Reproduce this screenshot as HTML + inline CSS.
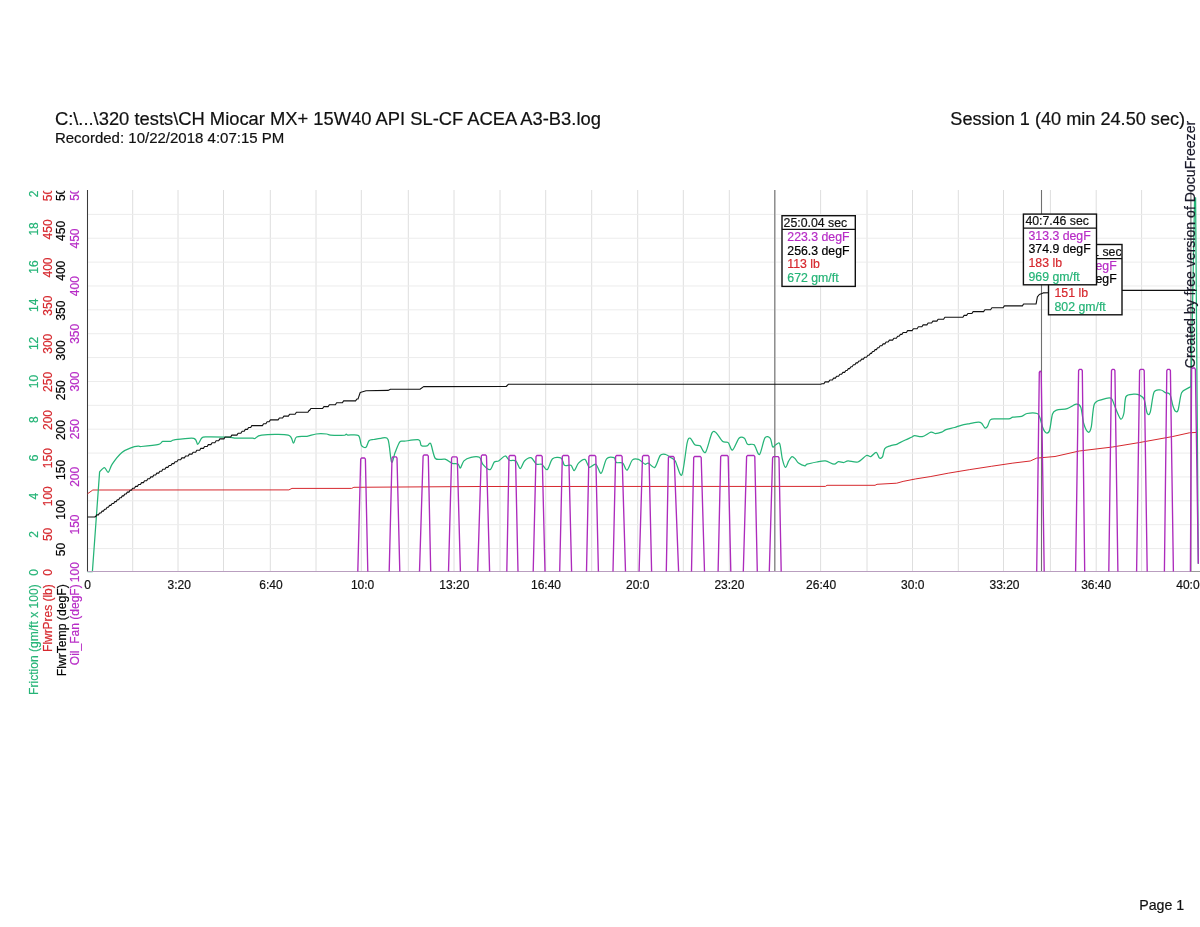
<!DOCTYPE html>
<html><head><meta charset="utf-8"><title>Chart</title>
<style>
html,body{margin:0;padding:0;background:#fff;width:1200px;height:927px;overflow:hidden;}
svg{display:block;will-change:transform;}
text{font-family:"Liberation Sans",Arial,Helvetica,sans-serif;stroke-width:0.2px;}
</style></head><body>
<svg width="1200" height="927" viewBox="0 0 1200 927">
<defs><clipPath id="clipTop"><rect x="0" y="190.75" width="90" height="500"/></clipPath><clipPath id="clipBox2"><rect x="1048.5" y="244.7" width="73" height="71"/></clipPath></defs>
<rect width="1200" height="927" fill="#fff"/>
<text x="54.9" y="125.2" font-size="18" textLength="546" lengthAdjust="spacingAndGlyphs" fill="#111" stroke="#111">C:\...\320 tests\CH Miocar MX+ 15W40 API SL-CF ACEA A3-B3.log</text>
<text x="54.9" y="142.6" font-size="15" textLength="229.4" lengthAdjust="spacingAndGlyphs" fill="#111" stroke="#111">Recorded: 10/22/2018 4:07:15 PM</text>
<text x="950.3" y="125.2" font-size="18" textLength="234.8" lengthAdjust="spacingAndGlyphs" fill="#111" stroke="#111">Session 1 (40 min 24.50 sec)</text>
<text x="1139.2" y="910" font-size="15" textLength="45" lengthAdjust="spacingAndGlyphs" fill="#111" stroke="#111">Page 1</text>
<path d="M132.70 190.0V571.5M178.00 190.0V571.5M223.50 190.0V571.5M270.30 190.0V571.5M316.00 190.0V571.5M361.30 190.0V571.5M408.30 190.0V571.5M454.00 190.0V571.5M500.00 190.0V571.5M545.70 190.0V571.5M591.70 190.0V571.5M637.70 190.0V571.5M683.30 190.0V571.5M729.30 190.0V571.5M775.00 190.0V571.5M820.60 190.0V571.5M867.00 190.0V571.5M912.50 190.0V571.5M958.30 190.0V571.5M1003.50 190.0V571.5M1050.40 190.0V571.5M1096.20 190.0V571.5M1141.60 190.0V571.5" stroke="#dedede" stroke-width="1" fill="none"/>
<path d="M88 214.37H1200M88 238.24H1200M88 262.11H1200M88 285.98H1200M88 309.85H1200M88 333.72H1200M88 357.59H1200M88 381.46H1200M88 405.33H1200M88 429.20H1200M88 453.07H1200M88 476.94H1200M88 500.81H1200M88 524.68H1200M88 548.55H1200" stroke="#ececec" stroke-width="1" fill="none"/>
<g clip-path="url(#clipTop)" font-size="12" text-anchor="middle">
<text transform="translate(38.1,572.50) rotate(-90)" fill="#25b477" stroke="#25b477">0</text><text transform="translate(38.1,534.32) rotate(-90)" fill="#25b477" stroke="#25b477">2</text><text transform="translate(38.1,496.14) rotate(-90)" fill="#25b477" stroke="#25b477">4</text><text transform="translate(38.1,457.96) rotate(-90)" fill="#25b477" stroke="#25b477">6</text><text transform="translate(38.1,419.78) rotate(-90)" fill="#25b477" stroke="#25b477">8</text><text transform="translate(38.1,381.60) rotate(-90)" fill="#25b477" stroke="#25b477">10</text><text transform="translate(38.1,343.42) rotate(-90)" fill="#25b477" stroke="#25b477">12</text><text transform="translate(38.1,305.24) rotate(-90)" fill="#25b477" stroke="#25b477">14</text><text transform="translate(38.1,267.06) rotate(-90)" fill="#25b477" stroke="#25b477">16</text><text transform="translate(38.1,228.88) rotate(-90)" fill="#25b477" stroke="#25b477">18</text><text transform="translate(38.1,190.70) rotate(-90)" fill="#25b477" stroke="#25b477">20</text>
<text transform="translate(51.7,572.50) rotate(-90)" fill="#d6282e" stroke="#d6282e">0</text><text transform="translate(51.7,534.38) rotate(-90)" fill="#d6282e" stroke="#d6282e">50</text><text transform="translate(51.7,496.25) rotate(-90)" fill="#d6282e" stroke="#d6282e">100</text><text transform="translate(51.7,458.12) rotate(-90)" fill="#d6282e" stroke="#d6282e">150</text><text transform="translate(51.7,420.00) rotate(-90)" fill="#d6282e" stroke="#d6282e">200</text><text transform="translate(51.7,381.88) rotate(-90)" fill="#d6282e" stroke="#d6282e">250</text><text transform="translate(51.7,343.75) rotate(-90)" fill="#d6282e" stroke="#d6282e">300</text><text transform="translate(51.7,305.62) rotate(-90)" fill="#d6282e" stroke="#d6282e">350</text><text transform="translate(51.7,267.50) rotate(-90)" fill="#d6282e" stroke="#d6282e">400</text><text transform="translate(51.7,229.38) rotate(-90)" fill="#d6282e" stroke="#d6282e">450</text><text transform="translate(51.7,191.25) rotate(-90)" fill="#d6282e" stroke="#d6282e">500</text>
<text transform="translate(65.3,549.60) rotate(-90)" fill="#000" stroke="#000">50</text><text transform="translate(65.3,509.76) rotate(-90)" fill="#000" stroke="#000">100</text><text transform="translate(65.3,469.92) rotate(-90)" fill="#000" stroke="#000">150</text><text transform="translate(65.3,430.08) rotate(-90)" fill="#000" stroke="#000">200</text><text transform="translate(65.3,390.24) rotate(-90)" fill="#000" stroke="#000">250</text><text transform="translate(65.3,350.40) rotate(-90)" fill="#000" stroke="#000">300</text><text transform="translate(65.3,310.56) rotate(-90)" fill="#000" stroke="#000">350</text><text transform="translate(65.3,270.72) rotate(-90)" fill="#000" stroke="#000">400</text><text transform="translate(65.3,230.88) rotate(-90)" fill="#000" stroke="#000">450</text><text transform="translate(65.3,191.04) rotate(-90)" fill="#000" stroke="#000">500</text>
<text transform="translate(78.9,572.20) rotate(-90)" fill="#b72cc6" stroke="#b72cc6">100</text><text transform="translate(78.9,524.53) rotate(-90)" fill="#b72cc6" stroke="#b72cc6">150</text><text transform="translate(78.9,476.85) rotate(-90)" fill="#b72cc6" stroke="#b72cc6">200</text><text transform="translate(78.9,429.18) rotate(-90)" fill="#b72cc6" stroke="#b72cc6">250</text><text transform="translate(78.9,381.50) rotate(-90)" fill="#b72cc6" stroke="#b72cc6">300</text><text transform="translate(78.9,333.83) rotate(-90)" fill="#b72cc6" stroke="#b72cc6">350</text><text transform="translate(78.9,286.15) rotate(-90)" fill="#b72cc6" stroke="#b72cc6">400</text><text transform="translate(78.9,238.48) rotate(-90)" fill="#b72cc6" stroke="#b72cc6">450</text><text transform="translate(78.9,190.80) rotate(-90)" fill="#b72cc6" stroke="#b72cc6">500</text>
</g>
<g font-size="12.3">
<text transform="translate(38.4,694.9) rotate(-90)" textLength="110.6" lengthAdjust="spacingAndGlyphs" fill="#25b477" stroke="#25b477">Friction (gm/ft x 100)</text>
<text transform="translate(51.9,651.9) rotate(-90)" textLength="67.6" lengthAdjust="spacingAndGlyphs" fill="#d6282e" stroke="#d6282e">FlwrPres (lb)</text>
<text transform="translate(65.6,676.2) rotate(-90)" textLength="91.9" lengthAdjust="spacingAndGlyphs" fill="#000" stroke="#000">FlwrTemp (degF)</text>
<text transform="translate(79.3,665.2) rotate(-90)" textLength="80.9" lengthAdjust="spacingAndGlyphs" fill="#b72cc6" stroke="#b72cc6">Oil_Fan (degF)</text>
</g>
<g font-size="12" text-anchor="middle" fill="#111" stroke="#111">
<text x="87.5" y="589">0</text><text x="179.2" y="589">3:20</text><text x="270.9" y="589">6:40</text><text x="362.6" y="589">10:0</text><text x="454.3" y="589">13:20</text><text x="546.0" y="589">16:40</text><text x="637.7" y="589">20:0</text><text x="729.4" y="589">23:20</text><text x="821.1" y="589">26:40</text><text x="912.8" y="589">30:0</text><text x="1004.5" y="589">33:20</text><text x="1096.2" y="589">36:40</text><text x="1187.9" y="589">40:0</text>
</g>
<path d="M87.5 190.0V572.0" stroke="#3a3a3a" stroke-width="1.05" fill="none"/>
<path d="M774.8 190.0V571.5M1041.5 190.0V571.5M1190.9 190.0V571.5" stroke="#707070" stroke-width="1.1" fill="none"/>
<polyline points="87.5,493.8 92.8,490.0 288.9,489.9 292.0,488.4 351.6,488.4 353.9,487.3 480.0,486.5 825.4,486.4 827.0,485.3 875.0,485.3 877.0,484.3 896.7,483.2 903.1,481.4 915.8,478.9 930.9,476.5 948.2,473.2 969.8,469.6 991.3,466.3 1012.9,463.1 1030.2,461.0 1036.7,458.1 1055.0,456.5 1079.2,451.0 1112.5,447.0 1139.6,442.5 1172.8,436.5 1189.4,432.8 1197.0,432.4" fill="none" stroke="#d6282e" stroke-width="1.0" stroke-linejoin="round"/>
<path d="M87.5 571.5L92.4 571.5L99.60 471.90C100.32 471.25 103.09 467.54 104.40 467.60C105.71 467.66 107.13 472.82 108.30 472.30C109.47 471.78 110.16 467.07 112.20 464.10C114.24 461.13 118.99 454.98 121.90 452.50C124.81 450.02 129.12 448.55 131.60 447.60C134.07 446.66 136.94 446.37 138.40 446.20C139.86 446.03 138.40 446.78 141.30 446.50C144.36 446.22 155.59 445.06 158.80 444.30C162.01 443.54 160.94 441.83 162.70 441.40C164.45 440.96 168.75 441.64 170.50 441.40C172.25 441.16 170.91 440.26 174.40 439.80C177.90 439.34 190.31 437.62 193.80 438.30C197.30 438.98 196.53 444.30 197.70 444.30C198.87 444.30 200.43 439.41 201.60 438.30C202.77 437.19 201.60 437.05 205.50 436.90C209.76 436.75 225.43 437.11 230.00 437.30C234.57 437.50 232.59 438.06 236.00 438.20C239.41 438.33 249.86 438.15 252.70 438.20C254.90 438.25 253.55 438.96 254.90 438.50C256.25 438.04 256.70 435.61 261.70 435.10C266.69 434.59 283.44 433.90 288.20 435.10C292.95 436.30 292.15 442.82 293.40 443.10C294.64 443.38 294.46 438.02 296.50 437.00C298.54 435.98 304.06 436.75 307.00 436.30C309.94 435.85 313.15 434.35 316.10 434.00C319.06 433.65 324.54 433.83 326.70 434.00C328.86 434.17 327.78 434.94 330.50 435.10C333.22 435.27 342.43 435.27 344.80 435.10C346.30 434.94 345.85 434.00 346.30 434.00C346.75 434.00 346.30 434.88 347.80 435.10C349.62 435.33 356.36 433.97 358.40 435.50C360.44 437.03 360.26 443.53 361.40 445.30C362.54 447.07 364.86 447.98 366.00 447.30C367.14 446.62 367.85 441.97 369.00 440.80C370.15 439.63 371.91 439.88 373.70 439.50C375.49 439.12 378.75 438.30 380.90 438.30C383.04 438.30 386.41 435.94 388.00 439.50C389.59 443.06 390.44 460.03 391.50 462.00C392.56 463.97 393.86 455.62 395.10 452.60C396.35 449.59 398.38 443.61 399.80 441.90C401.23 440.19 401.75 441.51 404.60 441.20C407.45 440.88 416.31 439.17 418.80 439.80C421.20 440.43 419.95 444.48 421.20 445.40C422.44 446.31 425.68 446.17 427.10 445.90C428.53 445.63 429.45 441.71 430.70 443.60C431.94 445.49 433.25 456.16 435.40 458.50C437.54 460.84 442.50 458.48 445.00 459.20C447.50 459.92 450.15 462.58 452.10 463.30C454.05 464.02 456.75 463.30 458.00 464.00C459.25 464.70 459.51 468.47 460.40 468.00C461.28 467.53 462.31 462.50 463.90 460.90C465.49 459.29 468.68 457.84 471.00 457.30C473.32 456.76 477.62 456.24 479.40 457.30C481.18 458.37 481.31 462.54 482.90 464.40C484.49 466.26 488.29 470.06 490.00 469.70C491.71 469.34 493.01 463.31 494.30 462.00C495.59 460.69 496.98 461.90 498.60 461.00C500.22 460.10 503.48 456.11 505.10 456.00C506.72 455.89 507.78 459.55 509.40 460.30C511.02 461.05 514.28 459.77 515.90 461.00C517.52 462.23 518.91 468.50 520.20 468.50C521.49 468.50 522.88 462.62 524.50 461.00C526.12 459.38 529.22 457.22 531.00 457.70C532.78 458.18 534.78 463.22 536.40 464.20C538.02 465.18 540.18 463.39 541.80 464.20C543.42 465.01 545.58 470.41 547.20 469.60C548.82 468.79 550.50 460.53 552.60 458.80C554.70 457.07 559.42 457.12 561.20 458.10C562.99 459.08 563.04 464.22 564.50 465.30C565.96 466.38 569.44 464.49 570.90 465.30C572.36 466.11 573.06 471.03 574.20 470.70C575.34 470.37 576.88 464.80 578.50 463.10C580.12 461.41 583.38 458.75 585.00 459.40C586.62 460.04 587.68 466.68 589.30 467.40C590.92 468.12 594.01 463.33 595.80 464.20C597.58 465.07 599.58 474.01 601.20 473.20C602.82 472.39 604.67 461.12 606.60 458.80C608.53 456.48 612.64 457.14 614.10 457.70C615.56 458.25 615.01 461.69 616.30 462.50C617.59 463.31 621.10 461.95 622.70 463.10C624.31 464.25 625.53 470.68 627.00 470.20C628.47 469.72 630.76 461.52 632.50 459.90C634.24 458.28 636.71 458.75 638.60 459.40C640.49 460.04 643.64 463.64 645.10 464.20C646.56 464.75 646.84 462.62 648.30 463.10C649.75 463.58 653.01 468.54 654.80 467.40C656.58 466.26 658.58 457.44 660.20 455.50C661.82 453.56 663.98 454.17 665.60 454.50C667.22 454.83 669.54 456.72 671.00 457.70C672.46 458.68 673.68 458.40 675.30 461.00C676.92 463.60 680.01 477.76 681.80 475.00C683.58 472.24 685.91 448.11 687.20 442.60C688.49 437.10 689.26 437.97 690.40 438.30C691.54 438.63 693.34 443.68 694.80 444.80C696.25 445.93 698.50 444.68 700.10 445.80C701.71 446.93 703.72 454.24 705.50 452.30C707.28 450.37 710.38 435.81 712.00 432.90C713.62 429.99 714.68 431.61 716.30 432.90C717.92 434.19 721.01 440.05 722.80 441.50C724.58 442.95 726.75 441.31 728.20 442.60C729.66 443.89 730.88 450.75 732.50 450.10C734.12 449.46 737.22 440.07 739.00 438.30C740.78 436.53 743.11 437.40 744.40 438.30C745.69 439.20 746.14 443.32 747.60 444.30C749.06 445.28 752.32 443.27 754.10 444.80C755.88 446.33 757.88 455.55 759.50 454.50C761.12 453.45 763.28 440.23 764.90 437.80C766.52 435.37 769.14 436.94 770.30 438.30C771.45 439.67 771.77 445.92 772.60 446.90C773.43 447.88 774.73 445.28 775.80 444.80C776.87 444.32 778.73 441.60 779.70 443.70C780.68 445.80 781.43 455.25 782.30 458.80C783.17 462.36 784.54 467.08 785.50 467.40C786.46 467.71 787.73 462.52 788.70 460.90C789.68 459.28 791.02 456.92 792.00 456.60C792.98 456.29 794.23 457.82 795.20 458.80C796.18 459.78 797.04 462.04 798.50 463.10C799.96 464.17 803.61 465.73 804.90 465.90C806.19 466.06 805.32 464.78 807.10 464.20C808.88 463.62 814.05 462.50 816.80 462.00C819.54 461.50 822.80 460.57 825.40 460.90C828.00 461.23 832.15 464.09 834.10 464.20C836.05 464.31 836.94 461.86 838.40 461.60C839.86 461.35 842.34 462.61 843.80 462.50C845.25 462.39 846.00 460.97 848.10 460.90C850.20 460.82 855.05 462.81 857.80 462.00C860.54 461.19 864.45 456.31 866.40 455.50C868.35 454.69 869.33 457.08 870.80 456.60C872.27 456.12 874.91 452.07 876.20 452.30C877.49 452.53 878.44 457.46 879.40 458.10C880.36 458.75 881.79 458.03 882.60 456.60C883.41 455.18 883.66 450.22 884.80 448.60C885.94 446.98 888.42 446.44 890.20 445.80C891.99 445.16 895.25 444.78 896.70 444.30C898.16 443.82 898.61 443.25 899.90 442.60C901.19 441.96 903.56 440.81 905.30 440.00C907.04 439.19 910.09 437.84 911.50 437.20C912.91 436.56 913.08 435.79 914.70 435.70C916.32 435.61 919.87 437.12 922.30 436.60C924.73 436.08 928.96 432.67 930.90 432.20C932.84 431.73 933.58 433.50 935.20 433.50C936.82 433.50 940.08 432.78 941.70 432.20C943.32 431.62 944.07 430.31 946.00 429.60C947.93 428.90 952.34 428.14 954.60 427.50C956.87 426.86 958.82 425.88 961.10 425.30C963.38 424.72 967.20 424.08 969.80 423.60C972.39 423.12 976.63 422.16 978.40 422.10C980.17 422.04 980.62 422.33 981.60 423.20C982.58 424.07 984.01 427.42 984.90 427.90C985.78 428.38 986.69 427.60 987.50 426.40C988.31 425.20 989.07 421.02 990.30 419.90C991.53 418.77 992.96 419.05 995.70 418.90C998.45 418.75 1006.02 419.17 1008.60 418.90C1011.18 418.63 1010.95 417.49 1012.90 417.10C1014.85 416.71 1019.49 416.84 1021.60 416.30C1023.72 415.76 1024.67 413.92 1027.00 413.50C1029.33 413.08 1035.16 412.86 1037.10 413.50C1039.03 414.14 1039.00 415.54 1039.90 417.80C1040.80 420.06 1042.12 426.32 1043.10 428.60C1044.07 430.88 1045.43 432.76 1046.40 433.00C1047.38 433.24 1048.68 433.05 1049.60 430.20C1050.51 427.35 1051.45 417.00 1052.50 414.00C1053.55 411.00 1054.39 411.00 1056.60 410.20C1058.80 409.40 1064.26 409.60 1067.20 408.70C1070.14 407.80 1074.16 404.43 1076.20 404.20C1078.24 403.97 1079.66 404.26 1080.80 407.20C1081.94 410.14 1082.67 420.05 1083.80 423.80C1084.92 427.55 1087.17 431.75 1088.30 432.20C1089.42 432.65 1090.40 431.00 1091.30 426.80C1092.20 422.60 1092.71 408.28 1094.30 404.20C1095.89 400.12 1099.41 400.52 1101.90 399.60C1104.39 398.69 1109.09 397.41 1110.90 398.10C1112.72 398.79 1113.09 402.16 1114.00 404.20C1114.91 406.24 1115.96 409.45 1117.00 411.70C1118.04 413.95 1119.87 418.97 1120.90 419.20C1121.94 419.43 1123.14 416.59 1123.90 413.20C1124.66 409.81 1124.55 399.45 1126.00 396.60C1127.45 393.75 1131.56 394.43 1133.60 394.20C1135.64 393.97 1138.01 394.29 1139.60 395.10C1141.19 395.91 1143.06 396.89 1144.20 399.60C1145.34 402.31 1146.30 411.30 1147.20 413.20C1148.10 415.10 1149.16 415.47 1150.20 412.30C1151.24 409.13 1152.51 395.45 1154.10 392.10C1155.69 388.75 1159.12 389.93 1160.80 390.00C1162.48 390.07 1163.92 391.93 1165.30 392.60C1166.68 393.28 1168.86 392.54 1170.00 394.50C1171.14 396.46 1172.08 403.18 1172.90 405.70C1173.73 408.22 1174.72 410.66 1175.50 411.30C1176.28 411.94 1177.18 412.77 1178.10 410.00C1179.01 407.23 1180.17 396.04 1181.60 392.80C1183.02 389.56 1186.19 389.31 1187.60 388.40C1189.01 387.48 1190.49 386.95 1191.00 386.70L1194.6 197.8L1195.6 197.8L1198.3 563.8" fill="none" stroke="#25b477" stroke-width="1.25" stroke-linejoin="round"/>
<polyline points="87.5,517.0 94.7,517.0 95.5,516.4 95.5,516.8 95.7,516.8 96.8,514.9 98.4,514.9 99.6,513.0 100.9,513.0 102.1,511.1 103.4,511.1 104.6,509.2 105.9,509.2 107.1,507.3 108.4,507.3 109.6,505.4 110.9,505.4 112.1,503.5 113.7,503.5 114.8,501.6 116.2,501.6 117.3,499.7 118.7,499.7 119.8,497.8 121.2,497.8 122.3,495.9 123.7,495.9 124.8,494.0 126.2,494.0 127.3,492.1 128.9,492.1 130.1,490.2 131.4,490.2 132.6,488.3 134.4,488.3 135.6,486.4 137.4,486.4 138.6,484.5 140.4,484.5 141.6,482.6 143.4,482.6 144.6,480.7 146.7,480.7 147.8,478.8 149.7,478.8 150.8,476.9 152.7,476.9 153.8,475.0 155.7,475.0 156.8,473.1 158.7,473.1 159.8,471.2 161.7,471.2 162.8,469.3 164.9,469.3 166.1,467.4 167.9,467.4 169.1,465.5 170.9,465.5 172.1,463.6 173.9,463.6 175.1,461.7 176.9,461.7 178.1,459.8 180.7,459.8 181.8,457.9 184.4,457.9 185.6,456.0 188.2,456.0 189.3,454.1 191.9,454.1 193.1,452.2 195.7,452.2 196.8,450.3 199.7,450.3 200.8,448.4 203.4,448.4 204.6,446.5 207.2,446.5 208.3,444.6 210.9,444.6 212.1,442.7 214.9,442.7 216.1,440.8 218.7,440.8 219.8,438.9 223.9,438.9 225.1,437.0 230.7,437.0 231.8,435.1 236.9,435.1 238.1,433.2 240.9,433.2 242.1,431.3 244.2,431.3 245.3,429.4 247.4,429.4 248.6,427.5 250.7,427.5 251.8,425.6 262.4,425.6 263.6,423.7 265.9,423.7 267.1,421.8 269.1,421.8 270.4,419.9 278.1,419.9 279.4,418.0 282.6,418.0 283.9,416.1 288.4,416.1 289.6,414.2 295.1,414.2 296.4,412.3 307.9,412.3 309.1,410.4 309.6,410.4 310.9,408.5 322.6,408.5 323.9,406.6 328.1,406.6 329.4,404.7 335.4,404.7 336.6,402.8 342.4,402.8 343.6,400.9 355.6,400.9 356.9,399.0 358.0,399.0 358.4,397.8 360.2,392.5 366.0,390.7 388.0,390.4 390.4,389.2 420.0,389.2 423.6,386.6 506.2,386.5 508.3,384.3 820.7,384.3 822.0,383.8 822.0,383.8 823.9,383.8 825.1,381.9 828.6,381.9 829.9,380.0 832.4,380.0 833.6,378.1 835.4,378.1 836.6,376.2 838.6,376.2 839.9,374.3 841.6,374.3 842.9,372.4 844.6,372.4 845.9,370.5 847.1,370.5 848.4,368.6 849.6,368.6 850.9,366.7 852.1,366.7 853.4,364.8 854.9,364.8 856.1,362.9 857.6,362.9 858.9,361.0 860.4,361.0 861.6,359.1 863.4,359.1 864.6,357.2 866.6,357.2 867.9,355.3 869.1,355.3 870.4,353.4 871.4,353.4 872.6,351.5 873.9,351.5 875.1,349.6 876.4,349.6 877.6,347.7 878.9,347.7 880.1,345.8 881.9,345.8 883.1,343.9 884.9,343.9 886.1,342.0 888.1,342.0 889.4,340.1 892.6,340.1 893.9,338.2 896.4,338.2 897.6,336.3 899.1,336.3 900.4,334.4 901.9,334.4 903.1,332.5 906.4,332.5 907.6,330.6 912.1,330.6 913.4,328.7 917.1,328.7 918.4,326.8 921.9,326.8 923.1,324.9 926.9,324.9 928.1,323.0 931.6,323.0 932.9,321.1 936.9,321.1 938.1,319.2 943.6,319.2 944.9,317.3 962.9,317.3 964.1,315.4 966.6,315.4 967.9,313.5 971.9,313.5 973.1,311.6 983.6,311.6 984.9,309.7 990.6,309.7 991.9,307.8 1003.1,307.8 1004.4,305.9 1022.4,305.9 1023.6,304.0 1036.0,304.0 1036.1,303.9 1037.4,296.8 1039.3,294.5 1043.2,292.9 1048.4,292.7 1122.0,290.4 1196.5,290.4" fill="none" stroke="#111" stroke-width="1.1" stroke-linejoin="round"/>
<path d="M87.5 571.5H1200" stroke="#9a9a9a" stroke-width="1" fill="none"/>
<path d="M87.5 571.5H1190.6" stroke="#b99fbf" stroke-width="1" fill="none"/>
<path d="M357.8 571.5 L360.7 459.2 L361.5 458.0 L364.6 458.0 L365.4 459.2 L367.8 571.5M389.2 571.5 L392.0 458.0 L392.8 456.8 L396.2 456.8 L397.0 458.0 L399.8 571.5M419.5 571.5 L423.1 456.2 L423.9 455.0 L427.5 455.0 L428.3 456.2 L430.7 571.5M448.5 571.5 L451.6 458.0 L452.4 456.8 L456.5 456.8 L457.3 458.0 L460.4 571.5M477.7 571.5 L481.3 456.2 L482.1 455.0 L485.7 455.0 L486.5 456.2 L489.6 571.5M506.8 571.5 L509.0 456.7 L509.8 455.5 L514.7 455.5 L515.5 456.7 L518.0 571.5M533.2 571.5 L536.0 456.7 L536.8 455.5 L541.4 455.5 L542.2 456.7 L545.0 571.5M559.7 571.5 L562.3 456.7 L563.1 455.5 L568.0 455.5 L568.8 456.7 L571.6 571.5M586.5 571.5 L588.9 456.7 L589.7 455.5 L595.0 455.5 L595.8 456.7 L598.4 571.5M613.0 571.5 L615.6 456.7 L616.4 455.5 L621.3 455.5 L622.1 456.7 L625.5 571.5M639.1 571.5 L642.5 456.7 L643.3 455.5 L648.2 455.5 L649.0 456.7 L651.6 571.5M666.3 571.5 L668.4 457.7 L669.2 456.5 L673.4 456.5 L674.2 457.7 L678.6 571.5M691.5 571.5 L693.7 457.7 L694.5 456.5 L700.4 456.5 L701.2 457.7 L704.5 571.5M718.1 571.5 L720.7 456.7 L721.5 455.5 L727.4 455.5 L728.2 456.7 L730.8 571.5M743.3 571.5 L746.6 456.7 L747.4 455.5 L754.0 455.5 L754.8 456.7 L757.3 571.5M769.3 571.5 L772.6 457.8 L773.4 456.6 L778.2 456.6 L779.0 457.8 L781.2 571.5M1036.7 571.5 L1039.3 372.4 L1040.1 371.2 L1040.4 371.2 L1041.2 372.4 L1044.2 571.5M1075.6 571.5 L1078.6 370.6 L1079.4 369.4 L1081.5 369.4 L1082.3 370.6 L1084.7 571.5M1108.8 571.5 L1111.5 370.6 L1112.3 369.4 L1114.1 369.4 L1114.9 370.6 L1117.9 571.5M1136.6 571.5 L1139.6 370.6 L1140.4 369.4 L1143.4 369.4 L1144.2 370.6 L1147.2 571.5M1164.4 571.5 L1166.8 370.6 L1167.6 369.4 L1169.6 369.4 L1170.4 370.6 L1173.4 571.5M1190.4 571.5 L1191.6 369.0 L1192.4 368.0 L1194.6 368.0 L1195.4 369.5 L1198.3 563.8" fill="none" stroke="#ad2bbc" stroke-width="1.35" stroke-linejoin="round"/>
<g><rect x="782" y="215.7" width="73.3" height="70.7" fill="#fff" stroke="#111" stroke-width="1.4"/><path d="M782 229.3H855.3" stroke="#111" stroke-width="1.3"/><g font-size="12.3"><text x="783.6" y="226.8" fill="#111" stroke="#111">25:0.04 sec</text><text x="787.3" y="241.0" fill="#b72cc6" stroke="#b72cc6">223.3 degF</text><text x="787.3" y="254.6" fill="#000" stroke="#000">256.3 degF</text><text x="787.3" y="268.3" fill="#d6282e" stroke="#d6282e">113 lb</text><text x="787.3" y="282.0" fill="#25b477" stroke="#25b477">672 gm/ft</text></g></g>
<g><rect x="1048.5" y="244.5" width="73.5" height="70.3" fill="#fff" stroke="#111" stroke-width="1.4"/><path d="M1048.5 258.6H1122" stroke="#111" stroke-width="1.3"/><g font-size="12.3" clip-path="url(#clipBox2)"><text x="1051.2" y="255.5" fill="#111" stroke="#111">34:40.91 sec</text><text x="1054.5" y="269.6" fill="#b72cc6" stroke="#b72cc6">310.8 degF</text><text x="1054.5" y="283.3" fill="#000" stroke="#000">371.4 degF</text><text x="1054.5" y="297.2" fill="#d6282e" stroke="#d6282e">151 lb</text><text x="1054.5" y="311.0" fill="#25b477" stroke="#25b477">802 gm/ft</text></g></g>
<g><rect x="1023.4" y="214.1" width="73.1" height="70.7" fill="#fff" stroke="#111" stroke-width="1.4"/><path d="M1023.4 228.2H1096.5" stroke="#111" stroke-width="1.3"/><g font-size="12.3"><text x="1025.4" y="225.3" fill="#111" stroke="#111">40:7.46 sec</text><text x="1028.5" y="239.7" fill="#b72cc6" stroke="#b72cc6">313.3 degF</text><text x="1028.5" y="253.4" fill="#000" stroke="#000">374.9 degF</text><text x="1028.5" y="267.1" fill="#d6282e" stroke="#d6282e">183 lb</text><text x="1028.5" y="280.6" fill="#25b477" stroke="#25b477">969 gm/ft</text></g></g>
<text transform="translate(1195.3,368.3) rotate(-90)" font-size="14" textLength="247.5" lengthAdjust="spacingAndGlyphs" fill="#1a1a2a" stroke="#1a1a2a">Created by free version of DocuFreezer</text>
</svg>
</body></html>
